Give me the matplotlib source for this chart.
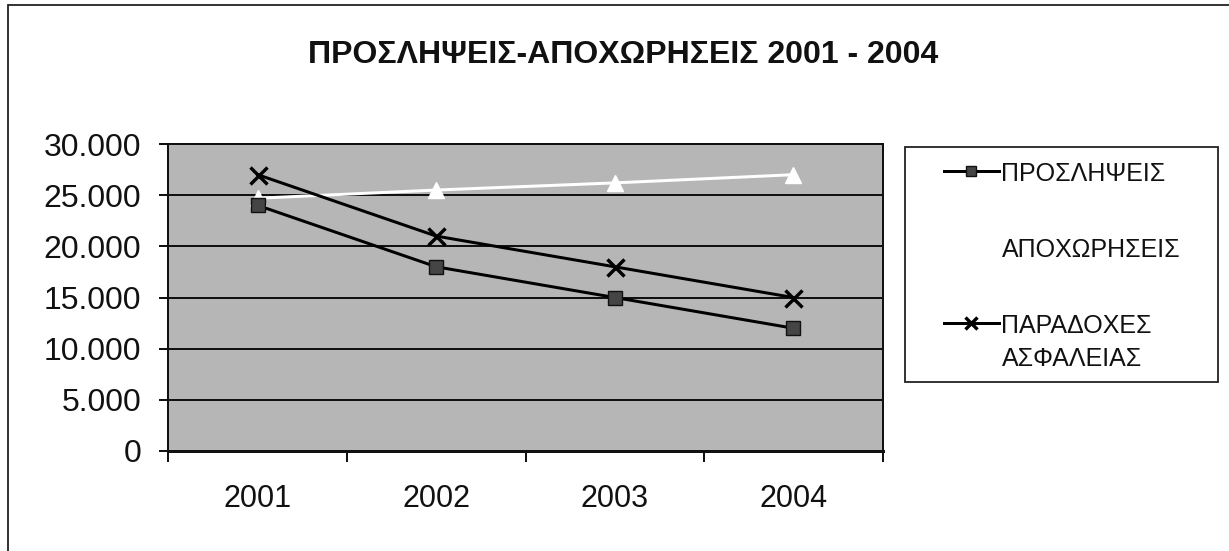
import matplotlib
matplotlib.use("Agg")
import matplotlib.pyplot as plt
from matplotlib.ticker import FuncFormatter, FixedLocator
from matplotlib.patches import Rectangle

plt.rcParams['font.family'] = ['Liberation Sans', 'DejaVu Sans']

years = ['2001', '2002', '2003', '2004']
proslipseis = [24000, 18000, 15000, 12000]
apoxoriseis = [24700, 25500, 26200, 27000]
paradoxes = [27000, 21000, 18000, 15000]
title = 'ΠΡΟΣΛΗΨΕΙΣ-ΑΠΟΧΩΡΗΣΕΙΣ 2001 - 2004'
labels = ['ΠΡΟΣΛΗΨΕΙΣ', 'ΑΠΟΧΩΡΗΣΕΙΣ', 'ΠΑΡΑΔΟΧΕΣ\nΑΣΦΑΛΕΙΑΣ']

W, H = 1229, 551
PX = 72 / 100  # points per pixel at dpi 100
fig = plt.figure(figsize=(W / 100, H / 100), dpi=100)
fig.patch.set_facecolor('white')

# outer chart frame (left and top edges visible)
fig.patches.append(Rectangle((8 / W, -0.2), 1.5, 1.2 - 5 / H, transform=fig.transFigure,
                             fill=False, edgecolor='#222222', linewidth=1.3))
# legend box
fig.patches.append(Rectangle((905 / W, 1 - 382 / H), 313 / W, 235 / H, transform=fig.transFigure,
                             fill=False, edgecolor='#222222', linewidth=1.3))

left, right = 168.5 / W, 882.5 / W
bottom, top = 1 - 451 / H, 1 - 144 / H
ax = fig.add_axes([left, bottom, right - left, top - bottom])
ax.set_facecolor('#b6b6b6')

x = list(range(1, len(years) + 1))
ax.plot(x, proslipseis, color='black', linewidth=3 * PX, marker='s', markersize=14 * PX,
        markerfacecolor='#454545', markeredgecolor='#111111', markeredgewidth=1.0,
        label=labels[0], zorder=4)
ax.plot(x, apoxoriseis, color='white', linewidth=3 * PX, marker='^', markersize=16 * PX,
        markerfacecolor='white', markeredgecolor='white', label=labels[1], zorder=3)
ax.plot(x, paradoxes, color='black', linewidth=3 * PX, marker='x', markersize=17 * PX,
        markeredgewidth=3.4 * PX, markeredgecolor='black', label=labels[2], zorder=4)

ax.set_xlim(0.5, len(years) + 0.5)
ax.set_ylim(0, 30000)
ax.set_yticks(range(0, 30001, 5000))
ax.yaxis.set_major_formatter(FuncFormatter(lambda v, p: f'{int(v):,}'.replace(',', '.')))
ax.yaxis.grid(True, color='#111111', linewidth=2 * PX)
ax.set_axisbelow(True)

ax.set_xticks(x)
ax.set_xticklabels(years)
ax.xaxis.set_minor_locator(FixedLocator([i + 0.5 for i in range(0, len(years) + 1)]))
ax.tick_params(axis='x', which='major', length=0, pad=33 * PX, labelsize=22, labelcolor='#111111')
ax.tick_params(axis='x', which='minor', length=11 * PX, width=2 * PX, direction='out', color='#111111')
ax.tick_params(axis='y', which='major', length=9 * PX, width=2 * PX, direction='out', pad=18 * PX,
               labelsize=23, labelcolor='#111111', color='#111111')

for side in ['left', 'bottom', 'top', 'right']:
    ax.spines[side].set_color('#111111')
    ax.spines[side].set_linewidth(2 * PX)
ax.spines['bottom'].set_linewidth(3 * PX)

fig.text(623 / W, 1 - 55 / H, title, ha='center', va='center', fontsize=23,
         fontweight='bold', color='#111111')

leg = fig.legend(loc='upper left', bbox_to_anchor=(944 / W, 1 - 162 / H), frameon=False,
                 fontsize=18, handlelength=2.2, handletextpad=0.1, labelspacing=2.08,
                 borderpad=0, borderaxespad=0, markerscale=0.75)
for col in leg._legend_handle_box.get_children():
    for item in col.get_children():
        item.align = 'top'
for t in leg.get_texts():
    t.set_color('#111111')
    t.set_linespacing(1.45)

fig.savefig('out.png', dpi=100, facecolor='white')
